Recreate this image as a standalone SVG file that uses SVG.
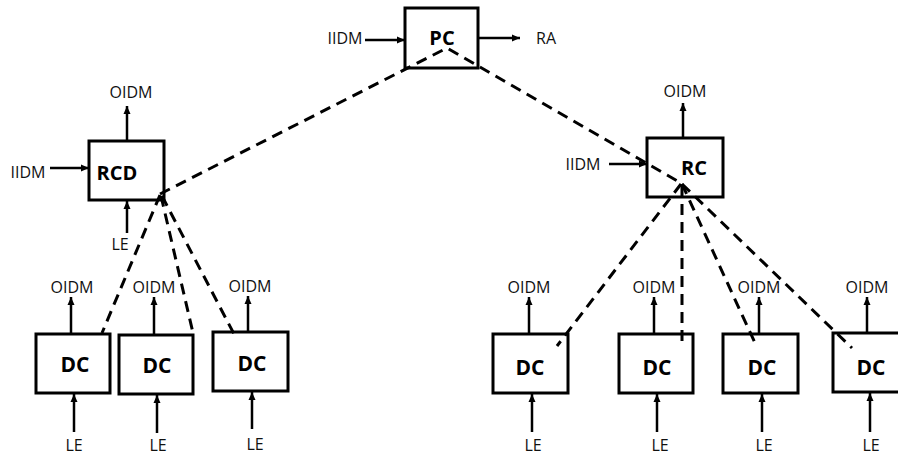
<svg xmlns="http://www.w3.org/2000/svg" width="898" height="457" viewBox="0 0 898 457">
  <defs>
    <marker id="arrow" markerUnits="userSpaceOnUse" markerWidth="9" markerHeight="8" refX="8" refY="4" orient="auto">
      <path d="M0,0.5 L8,4 L0,7.5 z" fill="#000"/>
    </marker>
    <style>
      .box { fill: #fff; stroke: #000; stroke-width: 3; }
      .name { font-family: "Open Sans", "Liberation Sans", sans-serif; font-weight: bold; font-size: 20px; text-anchor: middle; fill: #000; }
      .dcname { font-size: 21px; }
      .lbl { font-family: "Open Sans", "Liberation Sans", sans-serif; font-size: 16px; text-anchor: middle; fill: #111; }
      .arr { stroke: #000; stroke-width: 2.5; fill: none; marker-end: url(#arrow); }
      .dash { stroke: #000; stroke-width: 3; fill: none; stroke-dasharray: 11 7; }
    </style>
  </defs>

  <rect width="898" height="457" fill="#fff"/>

  <!-- nodes -->
  <g id="PC">
    <rect class="box" x="405" y="8" width="73" height="60"/>
    <text class="name" x="442" y="45">PC</text>
  </g>
  <g id="RCD">
    <rect class="box" x="89" y="141" width="75" height="59"/>
    <text class="name" x="117" y="180">RCD</text>
  </g>
  <g id="RC">
    <rect class="box" x="647" y="138" width="76" height="59"/>
    <text class="name" x="694" y="175">RC</text>
  </g>
  <g id="DC1">
    <rect class="box" x="36" y="334" width="74" height="59"/>
    <text class="name dcname" x="75" y="372">DC</text>
  </g>
  <g id="DC2">
    <rect class="box" x="119" y="335" width="74" height="59"/>
    <text class="name dcname" x="157" y="373">DC</text>
  </g>
  <g id="DC3">
    <rect class="box" x="213" y="332" width="75" height="59"/>
    <text class="name dcname" x="252" y="371">DC</text>
  </g>
  <g id="DC4">
    <rect class="box" x="493" y="334" width="75" height="59"/>
    <text class="name dcname" x="530" y="375">DC</text>
  </g>
  <g id="DC5">
    <rect class="box" x="619" y="334" width="74" height="59"/>
    <text class="name dcname" x="657" y="375">DC</text>
  </g>
  <g id="DC6">
    <rect class="box" x="723" y="334" width="75" height="59"/>
    <text class="name dcname" x="762" y="375">DC</text>
  </g>
  <g id="DC7">
    <rect class="box" x="833" y="333" width="75" height="59"/>
    <text class="name dcname" x="871" y="375">DC</text>
  </g>

  <!-- connectors -->
  <g id="connectors">
    <!-- hierarchy links -->
    <polyline class="dash" points="160,194 447,48 681,183"/>
    <line class="dash" x1="160" y1="195" x2="102" y2="333"/>
    <line class="dash" x1="161" y1="196" x2="193" y2="333"/>
    <line class="dash" x1="162" y1="196" x2="234" y2="334"/>
    <line class="dash" x1="681" y1="184" x2="557" y2="346"/>
    <line class="dash" x1="682" y1="186" x2="682" y2="344"/>
    <line class="dash" x1="682" y1="184" x2="755" y2="343"/>
    <line class="dash" x1="682" y1="184" x2="852" y2="348"/>

    <!-- PC inputs/outputs -->
    <line class="arr" x1="365" y1="40" x2="405" y2="40"/>
    <line class="arr" x1="478" y1="38" x2="520" y2="38"/>
    <!-- RCD -->
    <line class="arr" x1="127" y1="141" x2="127" y2="106"/>
    <line class="arr" x1="50" y1="168" x2="89" y2="168"/>
    <line class="arr" x1="127" y1="233" x2="127" y2="201"/>
    <!-- RC -->
    <line class="arr" x1="683" y1="138" x2="683" y2="103"/>
    <line class="arr" x1="609" y1="164" x2="647" y2="164"/>
    <!-- DC outputs -->
    <line class="arr" x1="71" y1="334" x2="71" y2="297"/>
    <line class="arr" x1="154" y1="335" x2="154" y2="297"/>
    <line class="arr" x1="248" y1="332" x2="248" y2="296"/>
    <line class="arr" x1="529" y1="334" x2="529" y2="297"/>
    <line class="arr" x1="654" y1="334" x2="654" y2="297"/>
    <line class="arr" x1="759" y1="334" x2="759" y2="297"/>
    <line class="arr" x1="867" y1="333" x2="867" y2="297"/>
    <!-- DC inputs -->
    <line class="arr" x1="74" y1="432" x2="74" y2="394"/>
    <line class="arr" x1="157" y1="433" x2="157" y2="395"/>
    <line class="arr" x1="252" y1="429" x2="252" y2="392"/>
    <line class="arr" x1="532" y1="432" x2="532" y2="394"/>
    <line class="arr" x1="657" y1="432" x2="657" y2="394"/>
    <line class="arr" x1="762" y1="432" x2="762" y2="394"/>
    <line class="arr" x1="870" y1="432" x2="870" y2="393"/>
  </g>

  <!-- signal labels -->
  <g id="labels">
    <text class="lbl" x="345" y="44">IIDM</text>
    <text class="lbl" x="546" y="44">RA</text>
    <text class="lbl" x="131" y="98">OIDM</text>
    <text class="lbl" x="28" y="178">IIDM</text>
    <text class="lbl" x="120" y="250">LE</text>
    <text class="lbl" x="685" y="97">OIDM</text>
    <text class="lbl" x="583" y="170">IIDM</text>
    <text class="lbl" x="72" y="293">OIDM</text>
    <text class="lbl" x="154" y="293">OIDM</text>
    <text class="lbl" x="250" y="292">OIDM</text>
    <text class="lbl" x="529" y="293">OIDM</text>
    <text class="lbl" x="654" y="293">OIDM</text>
    <text class="lbl" x="759" y="293">OIDM</text>
    <text class="lbl" x="867" y="293">OIDM</text>
    <text class="lbl" x="74" y="451">LE</text>
    <text class="lbl" x="158" y="451">LE</text>
    <text class="lbl" x="255" y="450">LE</text>
    <text class="lbl" x="533" y="451">LE</text>
    <text class="lbl" x="660" y="451">LE</text>
    <text class="lbl" x="764" y="451">LE</text>
    <text class="lbl" x="871" y="451">LE</text>
  </g>
</svg>
